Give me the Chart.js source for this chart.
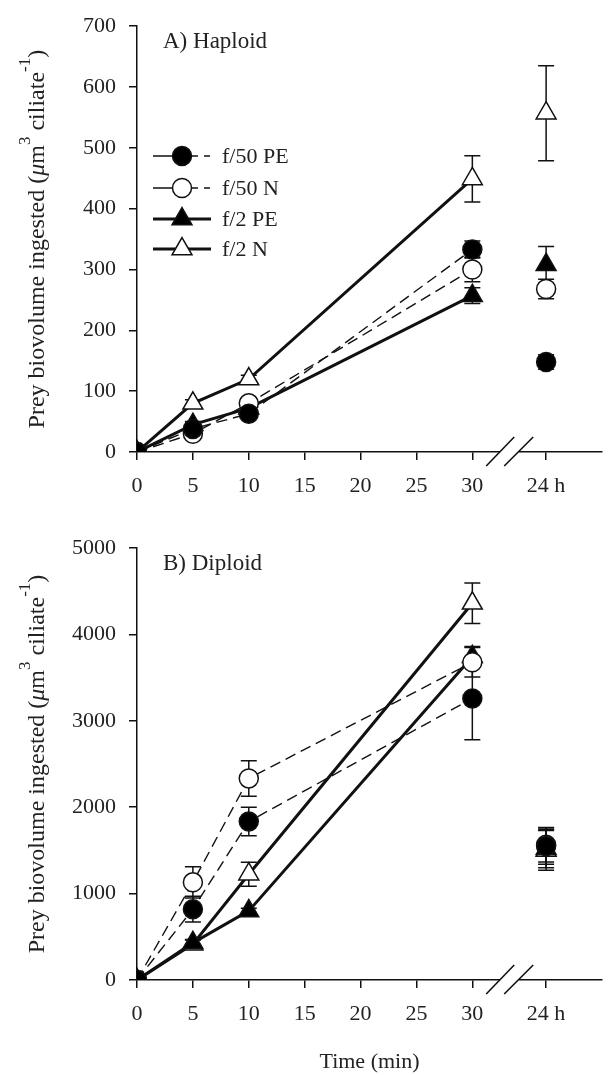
<!DOCTYPE html>
<html>
<head>
<meta charset="utf-8">
<script src="https://cdn.jsdelivr.net/npm/chart.js@4"></script>
<style>
  html, body { margin: 0; padding: 0; background: #fff; }
  #wrap { position: relative; width: 615px; height: 1075px; }
  .panel { position: absolute; left: 0; width: 615px; }
  #panelA { top: 0; height: 500px; }
  #panelB { top: 520px; height: 555px; }
</style>
</head>
<body>
<div id="wrap">
  <div class="panel" id="panelA"><canvas id="chartA"></canvas></div>
  <div class="panel" id="panelB"><canvas id="chartB"></canvas></div>
</div>
<script>
// sampling times (min); the last one is the 24 h sample, drawn past the axis break
const timePos = [0, 5, 10, 30, 36.6];
const tickValues = [0, 5, 10, 15, 20, 25, 30, 36.6];
const tickLabels = ["0", "5", "10", "15", "20", "25", "30", "24 h"];
const breakAt = 33.3;
const seriesNames = ["f/50 PE", "f/50 N", "f/2 PE", "f/2 N"];

// A) Haploid
const hapF50PE = [0, 38, 63, 333, 148];
const hapF50PEErr = [0, 5, 6, 14, 12];
const hapF50N = [0, 30, 80, 300, 268];
const hapF50NErr = [0, 5, 8, 20, 16];
const hapF2PE = [0, 45, 72, 257, 308];
const hapF2PEErr = [0, 5, 5, 13, 30];
const hapF2N = [0, 80, 120, 449, 557];
const hapF2NErr = [0, 6, 6, 38, 78];

// B) Diploid
const dipF50PE = [0, 820, 1834, 3259, 1550];
const dipF50PEErr = [0, 150, 165, 478, 210];
const dipF50N = [0, 1130, 2333, 3677, 1566];
const dipF50NErr = [0, 180, 205, 170, 200];
const dipF2PE = [0, 430, 800, 3741, 1520];
const dipF2PEErr = [0, 40, 30, 120, 220];
const dipF2N = [0, 414, 1224, 4360, 1500];
const dipF2NErr = [0, 50, 140, 235, 230];

const FONT = '"Liberation Serif", "DejaVu Serif", serif';

const styles = [
  { pointStyle: "circle", fill: "#000", dash: [11, 6], width: 1.4, radius: 9.5 },
  { pointStyle: "circle", fill: "#fff", dash: [11, 6], width: 1.4, radius: 9.5 },
  { pointStyle: "triangle", fill: "#000", dash: [], width: 3, radius: 11.5 },
  { pointStyle: "triangle", fill: "#fff", dash: [], width: 3, radius: 11.5 },
];

function makeSets(values, errors) {
  return values.map((vals, i) => {
    const s = styles[i];
    return {
      label: seriesNames[i],
      data: vals.map((v, j) => ({ x: timePos[j], y: v })),
      errors: errors[i],
      borderColor: "#111",
      borderWidth: s.width,
      borderDash: s.dash,
      pointStyle: s.pointStyle,
      pointRadius: s.radius,
      pointBackgroundColor: s.fill,
      pointBorderColor: "#111",
      pointBorderWidth: 1.5,
      fill: false,
      tension: 0,
      segment: {
        // no line from 30 min to the 24 h sample
        borderColor: (ctx) => (ctx.p1DataIndex === timePos.length - 1 ? "rgba(0,0,0,0)" : undefined),
      },
    };
  });
}

const errorBars = {
  id: "errorBars",
  beforeDatasetsDraw(chart) {
    const { ctx, scales } = chart;
    ctx.save();
    ctx.strokeStyle = "#111";
    ctx.lineWidth = 1.5;
    ctx.setLineDash([]);
    chart.data.datasets.forEach((ds) => {
      ds.data.forEach((p, j) => {
        const e = ds.errors[j];
        if (!e) return;
        const x = scales.x.getPixelForValue(p.x);
        const y1 = scales.y.getPixelForValue(p.y + e);
        const y2 = scales.y.getPixelForValue(p.y - e);
        ctx.beginPath();
        ctx.moveTo(x, y1); ctx.lineTo(x, y2);
        ctx.moveTo(x - 8, y1); ctx.lineTo(x + 8, y1);
        ctx.moveTo(x - 8, y2); ctx.lineTo(x + 8, y2);
        ctx.stroke();
      });
    });
    ctx.restore();
  },
};

const axisBreak = {
  id: "axisBreak",
  afterDraw(chart) {
    const { ctx, scales, chartArea } = chart;
    const xc = scales.x.getPixelForValue(breakAt);
    const y = chartArea.bottom;
    ctx.save();
    ctx.fillStyle = "#fff";
    ctx.fillRect(xc - 9, y - 3, 18.5, 6);
    ctx.strokeStyle = "#111";
    ctx.lineWidth = 1.6;
    ctx.beginPath();
    ctx.moveTo(xc - 23, y + 14); ctx.lineTo(xc + 5, y - 15);
    ctx.moveTo(xc - 5, y + 14); ctx.lineTo(xc + 24, y - 15);
    ctx.stroke();
    ctx.restore();
  },
};

const yTitleParts = [
  ["Prey biovolume ingested (", "n"],
  ["\u03BC", "i"],
  ["m", "n"],
  ["3", "s"],
  [" ciliate", "n"],
  ["-1", "s"],
  [")", "n"],
];

const yTitle = {
  id: "yTitle",
  afterDraw(chart) {
    const { ctx, chartArea } = chart;
    const fonts = { n: "24px " + FONT, i: "italic 24px " + FONT, s: "17px " + FONT };
    ctx.save();
    let total = 0;
    yTitleParts.forEach(([t, k]) => { ctx.font = fonts[k]; total += ctx.measureText(t).width; });
    ctx.translate(44, (chartArea.top + chartArea.bottom) / 2);
    ctx.rotate(-Math.PI / 2);
    ctx.fillStyle = "#222";
    ctx.textBaseline = "alphabetic";
    let x = -total / 2;
    yTitleParts.forEach(([t, k]) => {
      ctx.font = fonts[k];
      ctx.fillText(t, x, k === "s" ? -14 : 0);
      x += ctx.measureText(t).width;
    });
    ctx.restore();
  },
};

const panelLabel = {
  id: "panelLabel",
  afterDraw(chart, args, opts) {
    const { ctx } = chart;
    ctx.save();
    ctx.font = "23px " + FONT;
    ctx.fillStyle = "#222";
    ctx.textBaseline = "middle";
    ctx.fillText(opts.text, 163, chart.chartArea.top + 16);
    ctx.restore();
  },
};

const legendBox = {
  id: "legendBox",
  afterDraw(chart, args, opts) {
    if (!opts.show) return;
    const { ctx } = chart;
    const rows = [156, 188, 219, 249];
    ctx.save();
    styles.forEach((s, i) => {
      const y = rows[i];
      ctx.strokeStyle = "#111";
      ctx.lineWidth = s.width;
      ctx.beginPath();
      if (s.dash.length) {
        // "—●- -" sample as in the original key
        ctx.moveTo(153, y); ctx.lineTo(174, y);
        ctx.moveTo(192, y); ctx.lineTo(198, y);
        ctx.moveTo(204, y); ctx.lineTo(210, y);
      } else {
        ctx.moveTo(153, y); ctx.lineTo(211, y);
      }
      ctx.stroke();
      ctx.fillStyle = s.fill;
      ctx.strokeStyle = "#111";
      ctx.lineWidth = 1.5;
      Chart.helpers.drawPoint(ctx, { pointStyle: s.pointStyle, radius: s.radius, borderWidth: 1.5, rotation: 0 }, 182, y);
      ctx.fillStyle = "#222";
      ctx.font = "22px " + FONT;
      ctx.textBaseline = "middle";
      ctx.fillText(seriesNames[i], 222, y + 1);
    });
    ctx.restore();
  },
};

function makeChart(id, sets, yMax, yStep, padTop, xHeight, label, withLegend, withXTitle) {
  return new Chart(document.getElementById(id), {
    type: "line",
    data: { datasets: sets },
    options: {
      responsive: true,
      maintainAspectRatio: false,
      animation: false,
      events: [],
      layout: { padding: { top: padTop, left: 0, right: 0, bottom: 0 } },
      plugins: {
        legend: { display: false },
        tooltip: { enabled: false },
        panelLabel: { text: label },
        legendBox: { show: withLegend },
      },
      scales: {
        x: {
          type: "linear",
          min: 0,
          max: 41.6,
          afterBuildTicks: (scale) => { scale.ticks = tickValues.map((v) => ({ value: v })); },
          afterFit: (scale) => { scale.height = xHeight; },
          border: { display: true, color: "#111", width: 1.5 },
          grid: { drawOnChartArea: false, drawTicks: true, tickLength: 8, color: "#111", lineWidth: 1.5 },
          ticks: {
            autoSkip: false,
            maxRotation: 0,
            padding: 13,
            color: "#222",
            font: { family: FONT, size: 22 },
            callback: (v) => tickLabels[tickValues.indexOf(v)],
          },
          title: {
            display: withXTitle,
            text: "Time (min)",
            color: "#222",
            font: { family: FONT, size: 22 },
            padding: { top: 0, bottom: 0 },
          },
        },
        y: {
          min: 0,
          max: yMax,
          afterFit: (scale) => { scale.width = 137; },
          border: { display: true, color: "#111", width: 1.5 },
          grid: { drawOnChartArea: false, drawTicks: true, tickLength: 8, color: "#111", lineWidth: 1.5 },
          ticks: {
            stepSize: yStep,
            padding: 13,
            color: "#222",
            font: { family: FONT, size: 22 },
            callback: (v) => String(v),
          },
        },
      },
    },
    plugins: [errorBars, axisBreak, yTitle, panelLabel, legendBox],
  });
}

makeChart("chartA",
  makeSets([hapF50PE, hapF50N, hapF2PE, hapF2N], [hapF50PEErr, hapF50NErr, hapF2PEErr, hapF2NErr]),
  700, 100, 20, 48, "A) Haploid", true, false);

makeChart("chartB",
  makeSets([dipF50PE, dipF50N, dipF2PE, dipF2N], [dipF50PEErr, dipF50NErr, dipF2PEErr, dipF2NErr]),
  5000, 1000, 28, 95, "B) Diploid", false, true);
</script>
</body>
</html>
